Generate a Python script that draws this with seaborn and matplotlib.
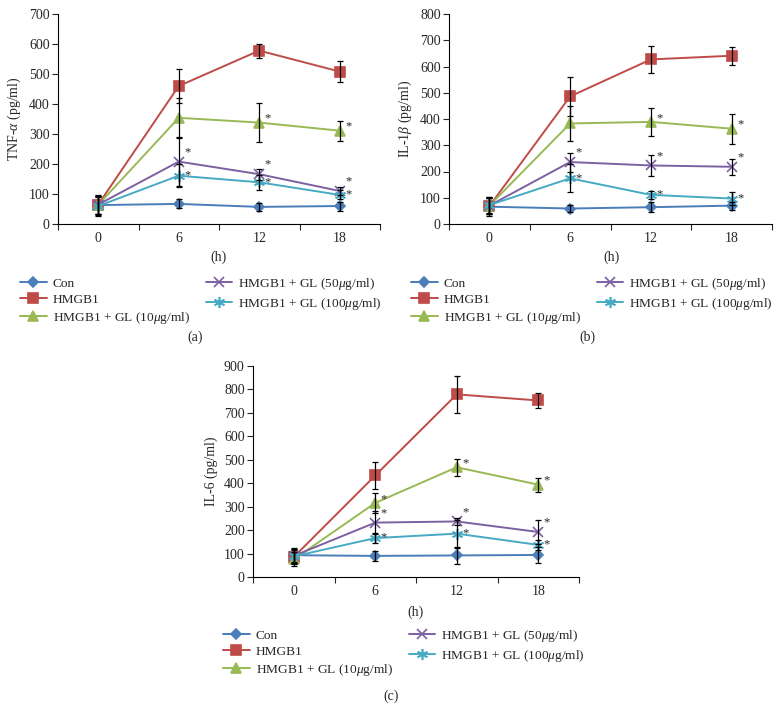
import numpy as np
import pandas as pd
import matplotlib
matplotlib.use("Agg")
import matplotlib.pyplot as plt
import seaborn as sns

# ---- data ----
times = ["0", "6", "12", "18"]
groups = ["Con", "HMGB1", "HMGB1 + GL (10$\\mu$g/ml)",
          "HMGB1 + GL (50$\\mu$g/ml)", "HMGB1 + GL (100$\\mu$g/ml)"]

tnf_con = [63, 67, 57, 60]
tnf_hmgb1 = [65, 460, 578, 508]
tnf_gl10 = [64, 354, 338, 311]
tnf_gl50 = [65, 208, 166, 110]
tnf_gl100 = [60, 161, 139, 97]
tnf_con_err = [35, 15, 13, 15]
tnf_hmgb1_err = [30, 58, 23, 35]
tnf_gl10_err = [30, 65, 65, 34]
tnf_gl50_err = [30, 80, 18, 12]
tnf_gl100_err = [30, 38, 25, 15]
tnf_stars = [[], [], [2, 3], [1, 2, 3], [1, 2, 3]]

il1_con = [66, 59, 64, 70]
il1_hmgb1 = [68, 486, 627, 641]
il1_gl10 = [70, 383, 389, 363]
il1_gl50 = [70, 236, 223, 218]
il1_gl100 = [72, 174, 111, 97]
il1_con_err = [35, 12, 18, 15]
il1_hmgb1_err = [30, 73, 50, 34]
il1_gl10_err = [30, 65, 52, 57]
il1_gl50_err = [30, 36, 40, 30]
il1_gl100_err = [30, 53, 15, 25]
il1_stars = [[], [], [2, 3], [1, 2, 3], [1, 2, 3]]

il6_con = [93, 90, 92, 94]
il6_hmgb1 = [85, 433, 779, 753]
il6_gl10 = [75, 316, 468, 394]
il6_gl50 = [90, 232, 237, 192]
il6_gl100 = [88, 166, 185, 137]
il6_con_err = [30, 20, 37, 33]
il6_hmgb1_err = [30, 57, 78, 33]
il6_gl10_err = [30, 42, 37, 30]
il6_gl50_err = [30, 50, 15, 53]
il6_gl100_err = [30, 20, 60, 20]
il6_stars = [[], [], [1, 2, 3], [1, 2, 3], [1, 2, 3]]

colors = ["#4A7EBB", "#BE4B48", "#98B954", "#7D60A0", "#46AAC5"]
markers = ["D", "s", "^", "x", (6, 2, 0)]
msizes = [5, 7, 7, 7, 8]
star_dy = [0, 0, -1.5, 2.5, -4.0]

sns.set_style("ticks")
plt.rcParams["font.family"] = ["Liberation Serif", "DejaVu Serif"]
plt.rcParams["mathtext.fontset"] = "custom"
plt.rcParams["mathtext.rm"] = "Liberation Serif"
plt.rcParams["mathtext.it"] = "Liberation Serif:italic"
plt.rcParams["mathtext.default"] = "it"

W, H = 783, 721
fig = plt.figure(figsize=(W / 100, H / 100), dpi=100)


def panel(rect, means, errs, stars, ymax, ystep, ylabel):
    ax = fig.add_axes([rect[0] / W, 1 - rect[3] / H, (rect[2] - rect[0]) / W,
                       (rect[3] - rect[1]) / H])
    xs = np.arange(len(times))
    for m, c, mk, ms in zip(means, colors, markers, msizes):
        sns.lineplot(x=xs, y=m, color=c, marker=mk, markersize=ms,
                     markeredgecolor=c, markerfacecolor=c,
                     markeredgewidth=1.2, linewidth=1.4, ax=ax)
    for m, e in zip(means, errs):
        ax.errorbar(xs, m, yerr=e, fmt="none", ecolor="black",
                    elinewidth=0.9, capsize=2.4, capthick=0.9, zorder=5)
    for k, idxs in enumerate(stars):
        for i in idxs:
            ax.annotate("*", (i, means[k][i]), xytext=(4, star_dy[k]),
                        textcoords="offset points", fontsize=9,
                        ha="left", va="bottom")
    ax.set_xlim(-0.5, 3.5)
    ax.set_ylim(0, ymax)
    ax.set_yticks(np.arange(0, ymax + 1, ystep))
    ax.set_xticks([-0.5, 0.5, 1.5, 2.5, 3.5])
    ax.set_xticklabels([])
    ax.set_xticks(xs, minor=True)
    ax.set_xticklabels(times, minor=True)
    ax.tick_params(axis="x", which="minor", length=0, labelsize=10, pad=6)
    ax.tick_params(axis="x", which="major", length=4, width=0.8)
    ax.tick_params(axis="y", length=4, width=0.8, labelsize=10, pad=2)
    ax.set_xlabel("")
    ax.set_ylabel(ylabel, fontsize=10, labelpad=4)
    sns.despine(ax=ax)
    for s in ("left", "bottom"):
        ax.spines[s].set_linewidth(0.8)
        ax.spines[s].set_color("black")
    return ax


def legend(ax, x, y):
    handles = ax.get_lines()[:5]
    fig.legend(handles, groups, loc="upper left",
               bbox_to_anchor=(x / W, 1 - y / H), ncol=2, frameon=False,
               fontsize=9.6, handlelength=2.0, handletextpad=0.45,
               columnspacing=1.2, labelspacing=0.28, borderpad=0,
               borderaxespad=0)


axa = panel((58, 14, 380, 224),
            [tnf_con, tnf_hmgb1, tnf_gl10, tnf_gl50, tnf_gl100],
            [tnf_con_err, tnf_hmgb1_err, tnf_gl10_err, tnf_gl50_err, tnf_gl100_err],
            tnf_stars, 700, 100, "TNF-$\\alpha$ (pg/ml)")
axb = panel((449, 14, 772, 224),
            [il1_con, il1_hmgb1, il1_gl10, il1_gl50, il1_gl100],
            [il1_con_err, il1_hmgb1_err, il1_gl10_err, il1_gl50_err, il1_gl100_err],
            il1_stars, 800, 100, "IL-1$\\beta$ (pg/ml)")
axc = panel((253, 366, 579, 577),
            [il6_con, il6_hmgb1, il6_gl10, il6_gl50, il6_gl100],
            [il6_con_err, il6_hmgb1_err, il6_gl10_err, il6_gl50_err, il6_gl100_err],
            il6_stars, 900, 100, "IL-6 (pg/ml)")

fig.text(219 / W, 1 - 257 / H, "(h)", ha="center", va="center", fontsize=10)
fig.text(611 / W, 1 - 257 / H, "(h)", ha="center", va="center", fontsize=10)
fig.text(416 / W, 1 - 612 / H, "(h)", ha="center", va="center", fontsize=10)

legend(axa, 20, 276)
legend(axb, 411, 276)
legend(axc, 223, 628)

fig.text(195 / W, 1 - 337 / H, "(a)", ha="center", va="center", fontsize=10)
fig.text(587 / W, 1 - 337 / H, "(b)", ha="center", va="center", fontsize=10)
fig.text(391 / W, 1 - 696 / H, "(c)", ha="center", va="center", fontsize=10)

fig.savefig("out.png", dpi=100)
